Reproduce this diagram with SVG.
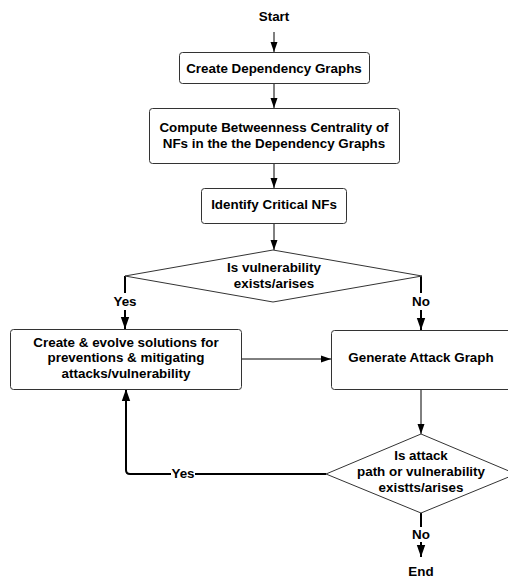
<svg xmlns="http://www.w3.org/2000/svg" width="508" height="577" viewBox="0 0 508 577">
<style>
.box{fill:#fff;stroke:#333;stroke-width:1}
.t{font-family:"Liberation Sans",Arial,sans-serif;font-weight:bold;font-size:13.4px;fill:#000;text-anchor:middle;dominant-baseline:central}
.ln{fill:none;stroke:#000;stroke-width:1}
.thick{fill:none;stroke:#000;stroke-width:2}
.lbl{fill:#fff}
</style>
<defs>
<marker id="ah" viewBox="0 0 10 10" refX="10" refY="5" markerWidth="10" markerHeight="10" markerUnits="userSpaceOnUse" orient="auto">
<path d="M0,1.5 L10,5 L0,8.5 Z" fill="#000"/>
</marker>
<marker id="ah2" viewBox="0 0 10 10" refX="10" refY="5" markerWidth="12" markerHeight="12" markerUnits="userSpaceOnUse" orient="auto">
<path d="M0,1.5 L10,5 L0,8.5 Z" fill="#000"/>
</marker>
</defs>
<rect width="508" height="577" fill="#fff"/>
<g id="connectors">
<path class="ln" d="M274,32 V52" marker-end="url(#ah)"/>
<path class="ln" d="M274,83 V108" marker-end="url(#ah)"/>
<path class="ln" d="M274,163 V188" marker-end="url(#ah)"/>
<path class="ln" d="M274,223 V250" marker-end="url(#ah)"/>
<path class="thick" d="M125,276 V329" marker-end="url(#ah2)"/>
<path class="thick" d="M421,276 V330" marker-end="url(#ah2)"/>
<path class="ln" d="M241,359 H331" marker-end="url(#ah)"/>
<path class="ln" d="M421,389 V434" marker-end="url(#ah)"/>
<path class="thick" d="M326,474 H130 Q126,474 126,470 V389" marker-end="url(#ah2)"/>
<path class="thick" d="M421,513 V557" marker-end="url(#ah2)"/>
<rect class="lbl" x="111" y="293" width="28" height="17"/>
<text class="t" x="125" y="301">Yes</text>
<rect class="lbl" x="410" y="293" width="22" height="17"/>
<text class="t" x="421" y="301">No</text>
<rect class="lbl" x="171" y="466" width="24" height="16"/>
<text class="t" x="183" y="473">Yes</text>
<rect class="lbl" x="410" y="527" width="22" height="15"/>
<text class="t" x="421" y="534">No</text>
</g>
<g id="start"><text class="t" x="274" y="16">Start</text></g>
<g id="n1"><rect class="box" x="179.5" y="52.5" width="190" height="31" rx="3"/><text class="t" x="274" y="68">Create Dependency Graphs</text></g>
<g id="n2"><rect class="box" x="149.5" y="108.5" width="250" height="55" rx="3"/><text class="t" x="274" y="127">Compute Betweenness Centrality of</text><text class="t" x="274" y="143">NFs in the the Dependency Graphs</text></g>
<g id="n3"><rect class="box" x="201.5" y="188.5" width="145" height="35" rx="3"/><text class="t" x="274" y="204">Identify Critical NFs</text></g>
<g id="d1"><polygon class="box" points="273,250 422,276 273,302 125,276"/><text class="t" x="274" y="267">Is vulnerability</text><text class="t" x="274" y="283">exists/arises</text></g>
<g id="n4"><rect class="box" x="10.5" y="329.5" width="231" height="60" rx="3"/><text class="t" x="126" y="342">Create &amp; evolve solutions for</text><text class="t" x="126" y="357">preventions &amp; mitigating</text><text class="t" x="126" y="373">attacks/vulnerability</text></g>
<g id="n5"><rect class="box" x="331.5" y="330.5" width="181" height="59" rx="3"/><text class="t" x="421" y="357">Generate Attack Graph</text></g>
<g id="d2"><polygon class="box" points="421,434 516,474 421,513 326,474"/><text class="t" x="421" y="455">Is attack</text><text class="t" x="421" y="471">path or vulnerability</text><text class="t" x="421" y="487">existts/arises</text></g>
<g id="end"><text class="t" x="421" y="571">End</text></g>
</svg>
